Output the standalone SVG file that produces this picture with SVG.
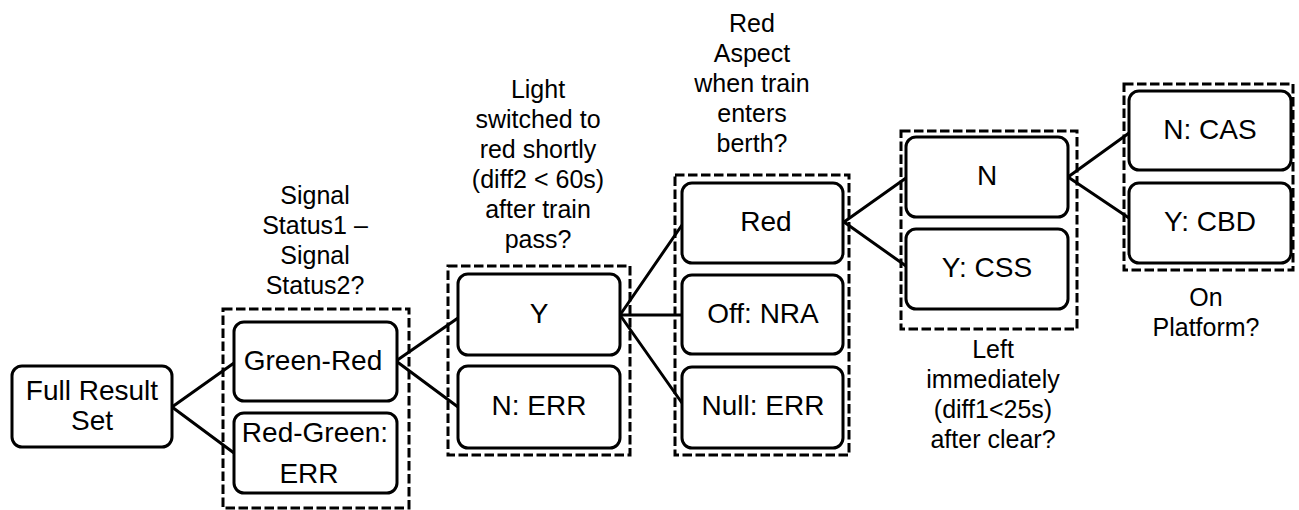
<svg xmlns="http://www.w3.org/2000/svg" width="1299" height="510" viewBox="0 0 1299 510">
  <style>
    .node { fill: #fff; stroke: #000; stroke-width: 3; }
    .group { fill: none; stroke: #000; stroke-width: 3; stroke-dasharray: 9.5 3.5; }
    .link { fill: none; stroke: #000; stroke-width: 3; stroke-linecap: round; }
    .t { font-family: "Liberation Sans", Arial, sans-serif; font-size: 28px; fill: #000; text-anchor: middle; }
    .q { font-family: "Liberation Sans", Arial, sans-serif; font-size: 25px; fill: #000; text-anchor: middle; }
  </style>
  <rect width="1299" height="510" fill="#fff"/>

  <!-- question labels -->
  <g id="q-signal-status">
    <text class="q" x="315" y="204">Signal</text>
    <text class="q" x="315" y="234">Status1 –</text>
    <text class="q" x="315" y="264">Signal</text>
    <text class="q" x="315" y="294">Status2?</text>
  </g>
  <g id="q-light-switched">
    <text class="q" x="538" y="98">Light</text>
    <text class="q" x="538" y="128">switched to</text>
    <text class="q" x="538" y="158">red shortly</text>
    <text class="q" x="538" y="188">(diff2 &lt; 60s)</text>
    <text class="q" x="538" y="218">after train</text>
    <text class="q" x="538" y="248">pass?</text>
  </g>
  <g id="q-red-aspect">
    <text class="q" x="752" y="32">Red</text>
    <text class="q" x="752" y="62">Aspect</text>
    <text class="q" x="752" y="92">when train</text>
    <text class="q" x="752" y="122">enters</text>
    <text class="q" x="752" y="152">berth?</text>
  </g>
  <g id="q-left-immediately">
    <text class="q" x="993" y="358">Left</text>
    <text class="q" x="993" y="388">immediately</text>
    <text class="q" x="993" y="418">(diff1&lt;25s)</text>
    <text class="q" x="993" y="448">after clear?</text>
  </g>
  <g id="q-on-platform">
    <text class="q" x="1206" y="306">On</text>
    <text class="q" x="1206" y="336">Platform?</text>
  </g>

  <!-- dashed decision groups -->
  <g id="groups">
    <rect class="group" x="223" y="309" width="186" height="199"/>
    <rect class="group" x="448" y="266" width="182" height="189"/>
    <rect class="group" x="675" y="175" width="174" height="280"/>
    <rect class="group" x="901" y="131" width="176" height="198"/>
    <rect class="group" x="1124" y="84" width="169" height="186"/>
  </g>

  <!-- connectors -->
  <g id="connectors">
    <line class="link" x1="172" y1="407" x2="234" y2="363"/>
    <line class="link" x1="172" y1="407" x2="234" y2="453"/>
    <line class="link" x1="396" y1="361" x2="458" y2="318"/>
    <line class="link" x1="396" y1="361" x2="458" y2="407"/>
    <line class="link" x1="620" y1="315" x2="682" y2="225"/>
    <line class="link" x1="620" y1="315" x2="682" y2="315"/>
    <line class="link" x1="620" y1="315" x2="682" y2="403"/>
    <line class="link" x1="844" y1="222" x2="906" y2="178"/>
    <line class="link" x1="844" y1="222" x2="906" y2="266"/>
    <line class="link" x1="1068" y1="177" x2="1129" y2="133"/>
    <line class="link" x1="1068" y1="177" x2="1129" y2="218"/>
  </g>

  <!-- nodes -->
  <g id="full-result-set">
    <rect class="node" x="12" y="366" width="160" height="81" rx="10"/>
    <text class="t" x="92" y="400">Full Result</text>
    <text class="t" x="92" y="430">Set</text>
  </g>
  <g id="green-red">
    <rect class="node" x="234" y="322" width="163" height="79" rx="10"/>
    <text class="t" x="313" y="370">Green-Red</text>
  </g>
  <g id="red-green-err">
    <rect class="node" x="234" y="413" width="163" height="80" rx="10"/>
    <text class="t" x="315" y="442">Red-Green:</text>
    <text class="t" x="309" y="483">ERR</text>
  </g>
  <g id="switched-y">
    <rect class="node" x="458" y="274" width="162" height="81" rx="10"/>
    <text class="t" x="539" y="323">Y</text>
  </g>
  <g id="switched-n-err">
    <rect class="node" x="458" y="366" width="162" height="82" rx="10"/>
    <text class="t" x="539" y="415">N: ERR</text>
  </g>
  <g id="aspect-red">
    <rect class="node" x="682" y="183" width="161" height="80" rx="10"/>
    <text class="t" x="766" y="231">Red</text>
  </g>
  <g id="aspect-off-nra">
    <rect class="node" x="682" y="275" width="161" height="79" rx="10"/>
    <text class="t" x="763" y="323">Off: NRA</text>
  </g>
  <g id="aspect-null-err">
    <rect class="node" x="682" y="367" width="161" height="81" rx="10"/>
    <text class="t" x="763" y="415">Null: ERR</text>
  </g>
  <g id="left-n">
    <rect class="node" x="906" y="137" width="162" height="80" rx="10"/>
    <text class="t" x="987" y="185">N</text>
  </g>
  <g id="left-y-css">
    <rect class="node" x="906" y="229" width="162" height="80" rx="10"/>
    <text class="t" x="987" y="277">Y: CSS</text>
  </g>
  <g id="platform-n-cas">
    <rect class="node" x="1129" y="91" width="162" height="79" rx="10"/>
    <text class="t" x="1210" y="139">N: CAS</text>
  </g>
  <g id="platform-y-cbd">
    <rect class="node" x="1129" y="183" width="162" height="80" rx="10"/>
    <text class="t" x="1210" y="231">Y: CBD</text>
  </g>
</svg>
